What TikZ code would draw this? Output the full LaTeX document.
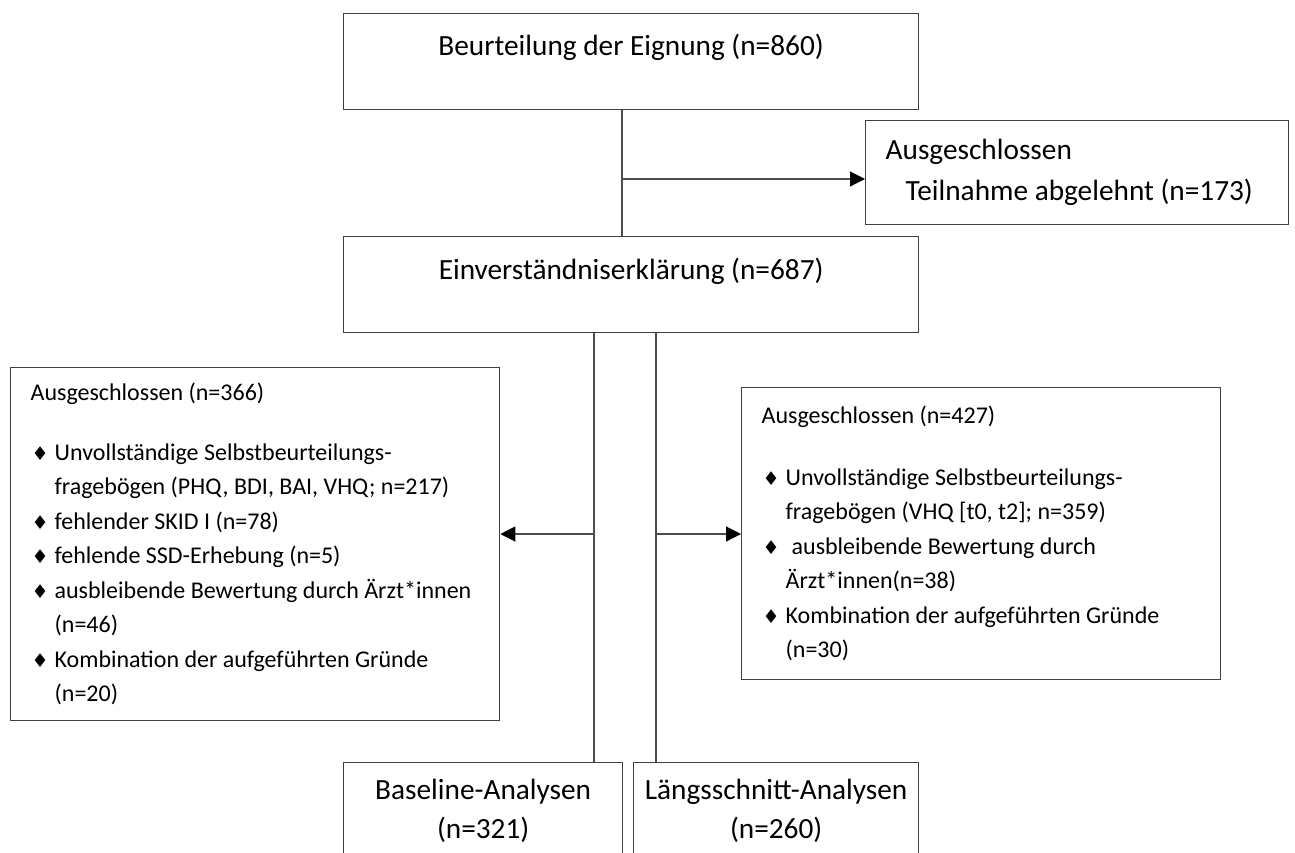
\documentclass[tikz,border=0pt]{standalone}
\usepackage{fontspec}
\setmainfont{Carlito}
\newfontfamily\symfont{DejaVu Sans}
\usetikzlibrary{arrows.meta}
\newcommand\bigsize{\fontsize{29.3}{39}\selectfont}
\newcommand\smallsize{\fontsize{24}{34.5}\selectfont}
\newcommand\dia{\makebox[24pt][l]{\hspace{1pt}{\symfont\fontsize{19}{19}\selectfont ♦}}}
\newcommand\cont{\hspace*{24pt}}

\begin{document}
\begin{tikzpicture}[x=1pt,y=-1pt,
  box/.style={draw=black!75,line width=1.3pt,font=\bigsize,anchor=north west,inner sep=0pt},
  exbox/.style={box,font=\smallsize,align=flush left,inner xsep=20pt},
  ln/.style={draw=black!70,line width=1.2pt},
  arr/.style={ln,-{Triangle[length=15pt,width=15pt,color=black]}}]
\useasboundingbox (0,0) rectangle (1295,852);
\node[box,minimum width=575pt,text height=42pt,text depth=54pt] (elig) at (343,13)
  {Beurteilung der Eignung (n=860)};
\node[box,minimum width=575pt,text height=43pt,text depth=53pt] (consent) at (343,236)
  {Einverständniserklärung (n=687)};
\node[box,align=flush left,inner xsep=20pt,text width=383pt,minimum width=423pt,minimum height=104pt] (excl0) at (865,120)
  {Ausgeschlossen\\[2pt]\hspace*{20pt}Teilnahme abgelehnt (n=173)};
% exclusions left and right
\node[exbox,text width=449pt,minimum width=489pt,minimum height=353pt] (excl1) at (10,367)
  {Ausgeschlossen (n=366)\\[25pt]
   \dia Unvollständige Selbstbeurteilungs-\\
   \cont fragebögen (PHQ, BDI, BAI, VHQ; n=217)\\
   \dia fehlender SKID I (n=78)\\
   \dia fehlende SSD-Erhebung (n=5)\\
   \dia ausbleibende Bewertung durch Ärzt*innen\\
   \cont (n=46)\\
   \dia Kombination der aufgeführten Gründe\\
   \cont (n=20)};
\node[exbox,text width=439pt,minimum width=479pt,minimum height=292pt] (excl2) at (741,387)
  {Ausgeschlossen (n=427)\\[27pt]
   \dia Unvollständige Selbstbeurteilungs-\\
   \cont fragebögen (VHQ [t0, t2]; n=359)\\
   \dia\hspace*{6pt}ausbleibende Bewertung durch\\
   \cont Ärzt*innen(n=38)\\
   \dia Kombination der aufgeführten Gründe\\
   \cont (n=30)};
% analyses
\node[box,align=flush center,text width=279pt,inner ysep=16pt] (base) at (343,762)
  {Baseline-Analysen\\(n=321)};
\node[box,align=flush center,text width=285pt,inner ysep=16pt] (longi) at (633,762)
  {Längsschnitt-Analysen\\(n=260)};

\coordinate (j0) at (622,179);
\coordinate (jl) at (594,534);
\coordinate (jr) at (656,534);
\draw[ln] (j0 |- elig.south) -- (j0 |- consent.north);
\draw[arr] (j0) -- (j0 -| excl0.west);
\draw[ln] (jl |- consent.south) -- (jl |- base.north);
\draw[ln] (jr |- consent.south) -- (jr |- longi.north);
\draw[arr] (jl) -- (jl -| excl1.east);
\draw[arr] (jr) -- (jr -| excl2.west);
\end{tikzpicture}
\end{document}
